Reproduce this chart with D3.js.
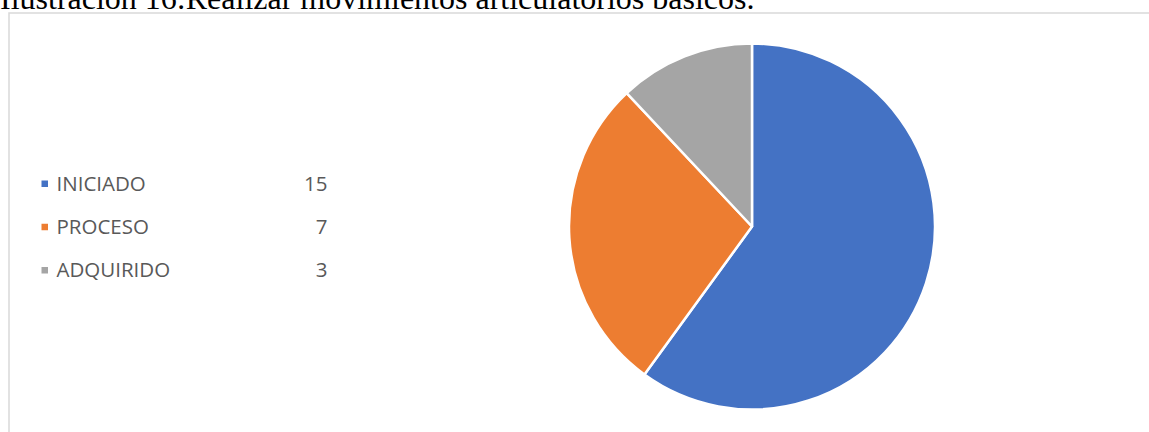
<!DOCTYPE html>
<html lang="es">
<head>
<meta charset="UTF-8" />
<title>Ilustración 16</title>
<script src="https://cdn.jsdelivr.net/npm/d3@7/dist/d3.min.js"></script>
<style>
  body { margin: 0; background: #fff; overflow: hidden; }
</style>
</head>
<body>
<svg id="chart" width="1149" height="432"></svg>
<script>
  const categorias = ['INICIADO', 'PROCESO', 'ADQUIRIDO'];
  const valores = [15, 7, 3];
  const colores = ['#4472C4', '#ED7D31', '#A5A5A5'];
  const titulo = 'Ilustración 16:Realizar movimientos articulatorios básicos.';

  const svg = d3.select('#chart');

  // titulo (cortado arriba, como en la imagen)
  svg.append('text')
    .attr('x', 0)
    .attr('y', 9)
    .attr('font-family', '"Liberation Serif", "Times New Roman", serif')
    .attr('font-size', 32)
    .attr('fill', '#000')
    .text(titulo);

  // marco del grafico
  svg.append('rect')
    .attr('x', 9)
    .attr('y', 13)
    .attr('width', 1160)
    .attr('height', 440)
    .attr('fill', 'none')
    .attr('stroke', '#D9D9D9')
    .attr('stroke-width', 1.5);

  const color = d3.scaleOrdinal().domain(categorias).range(colores);
  const datos = categorias.map((c, i) => ({ cat: c, val: valores[i] }));

  // pastel
  const radio = 183;
  const pie = d3.pie().sort(null).value(d => d.val);
  const arc = d3.arc().innerRadius(0).outerRadius(radio);

  const g = svg.append('g').attr('transform', 'translate(752, 226.5)');
  g.selectAll('path')
    .data(pie(datos))
    .enter()
    .append('path')
    .attr('d', arc)
    .attr('fill', d => color(d.data.cat))
    .attr('stroke', '#fff')
    .attr('stroke-width', 2.5)
    .attr('stroke-linejoin', 'round');

  // leyenda
  const y = d3.scalePoint().domain(categorias).range([183.5, 270]);
  const leyenda = svg.append('g');
  const fila = leyenda.selectAll('g')
    .data(datos)
    .enter()
    .append('g')
    .attr('transform', d => `translate(0, ${y(d.cat)})`);

  fila.append('rect')
    .attr('x', 41.5)
    .attr('y', -3)
    .attr('width', 6.5)
    .attr('height', 6.5)
    .attr('fill', d => color(d.cat));

  fila.append('text')
    .attr('x', 56.5)
    .attr('dy', '0.36em')
    .attr('font-family', '"Open Sans", sans-serif')
    .attr('font-size', 20.5)
    .attr('fill', '#595959')
    .text(d => d.cat);

  fila.append('text')
    .attr('x', 327.5)
    .attr('dy', '0.36em')
    .attr('text-anchor', 'end')
    .attr('font-family', '"Open Sans", sans-serif')
    .attr('font-size', 20.5)
    .attr('fill', '#595959')
    .text(d => d.val);
</script>
</body>
</html>
